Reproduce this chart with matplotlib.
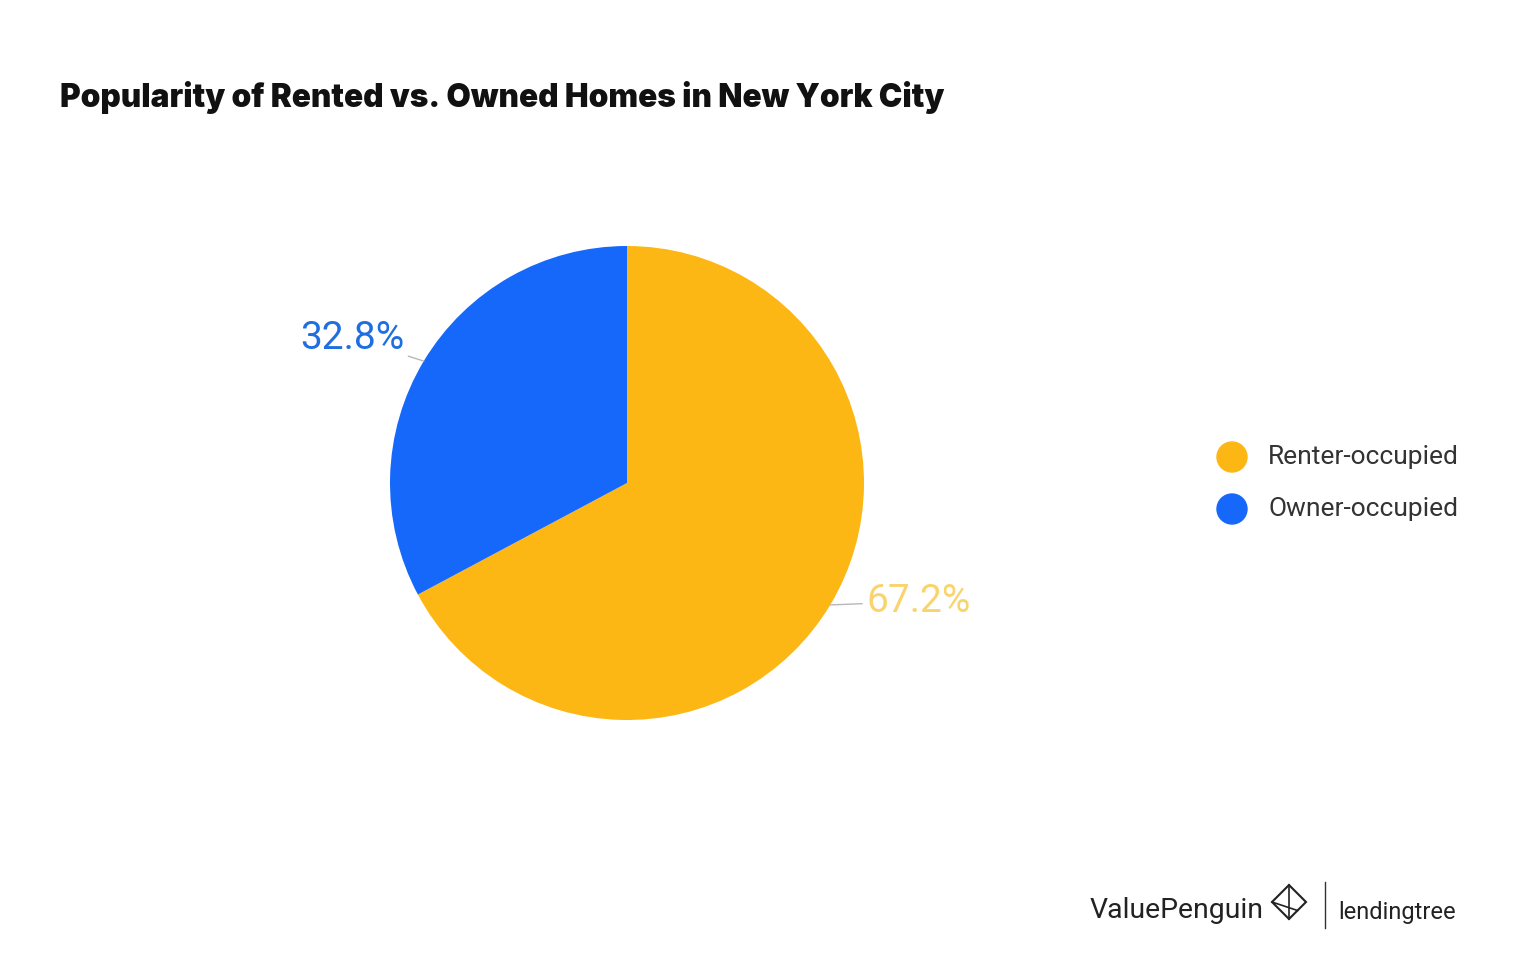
import numpy as np
import matplotlib.pyplot as plt
from matplotlib.patches import Ellipse

# data
categories = ['Renter-occupied', 'Owner-occupied']
shares = [67.2, 32.8]
colors = ['#FDB714', '#1668FB']
label_colors = ['#F9D46E', '#1F6FE0']

title = 'Popularity of Rented vs. Owned Homes in New York City'

fig = plt.figure(figsize=(15.2, 9.6), dpi=100)
fig.patch.set_facecolor('white')

fig.text(60 / 1520, 1 - 98 / 960, title, fontsize=22.7, fontweight='black',
         family=['Inter', 'DejaVu Sans'], color='#111111', va='center', ha='left')

# pie
ax = fig.add_axes([(627 - 237) / 1520, 1 - 720 / 960, 474 / 1520, 474 / 960])
wedges, _ = ax.pie(shares, colors=colors, startangle=90, counterclock=False,
                   radius=1.0, wedgeprops=dict(linewidth=0))
ax.set_xlim(-1, 1)
ax.set_ylim(-1, 1)
ax.set_aspect('equal')
ax.axis('off')

# label positions (axes data units, 1 unit = pie radius)
text_pos = [(1.01, -0.50), (-0.94, 0.61)]
for w, s, lc, pos in zip(wedges, shares, label_colors, text_pos):
    mid = np.deg2rad((w.theta1 + w.theta2) / 2)
    x, y = np.cos(mid), np.sin(mid)
    ha = 'left' if x > 0 else 'right'
    ax.annotate(f'{s}%', xy=(x, y), xytext=pos,
                ha=ha, va='center', fontsize=28, color=lc,
                family=['Roboto', 'DejaVu Sans'], annotation_clip=False,
                arrowprops=dict(arrowstyle='-', color='#B8B8B8', lw=1,
                                shrinkA=1, shrinkB=0))

# legend
for i, (cat, c) in enumerate(zip(categories, colors)):
    yy = 1 - (457 + 52 * i) / 960
    fig.add_artist(Ellipse((1232 / 1520, yy), 30 / 1520, 30 / 960,
                           transform=fig.transFigure, color=c))
    fig.text(1268 / 1520, yy, cat, fontsize=19, color='#333333',
             family=['Roboto', 'DejaVu Sans'], va='center', ha='left')

# footer logo
fig.text(1090 / 1520, 1 - 910 / 960, 'ValuePenguin', fontsize=20.4, color='#222222',
         family=['Roboto', 'DejaVu Sans'], va='center', ha='left')
lx, ly = 1289 / 1520, 1 - 902 / 960
dx, dy = 17 / 1520, 17 / 960
fig.add_artist(plt.Polygon([[lx - dx, ly], [lx, ly + dy], [lx + dx, ly], [lx, ly - dy]],
                           closed=True, fill=False, ec='#222222', lw=1.5,
                           transform=fig.transFigure))
fig.add_artist(plt.Line2D([lx, lx], [ly + dy, ly - dy], color='#222222', lw=1.2,
                          transform=fig.transFigure))
fig.add_artist(plt.Line2D([lx - dx, lx + dx * 0.5], [ly, ly - dy * 0.5], color='#222222',
                          lw=1.2, transform=fig.transFigure))
fig.add_artist(plt.Line2D([1325 / 1520, 1325 / 1520], [1 - 882 / 960, 1 - 928 / 960],
                          color='#333333', lw=1, transform=fig.transFigure))
fig.text(1338 / 1520, 1 - 912 / 960, 'lendingtree', fontsize=17, color='#222222',
         family=['Roboto', 'DejaVu Sans'], va='center', ha='left')

fig.savefig('out.png', dpi=100, facecolor='white')
